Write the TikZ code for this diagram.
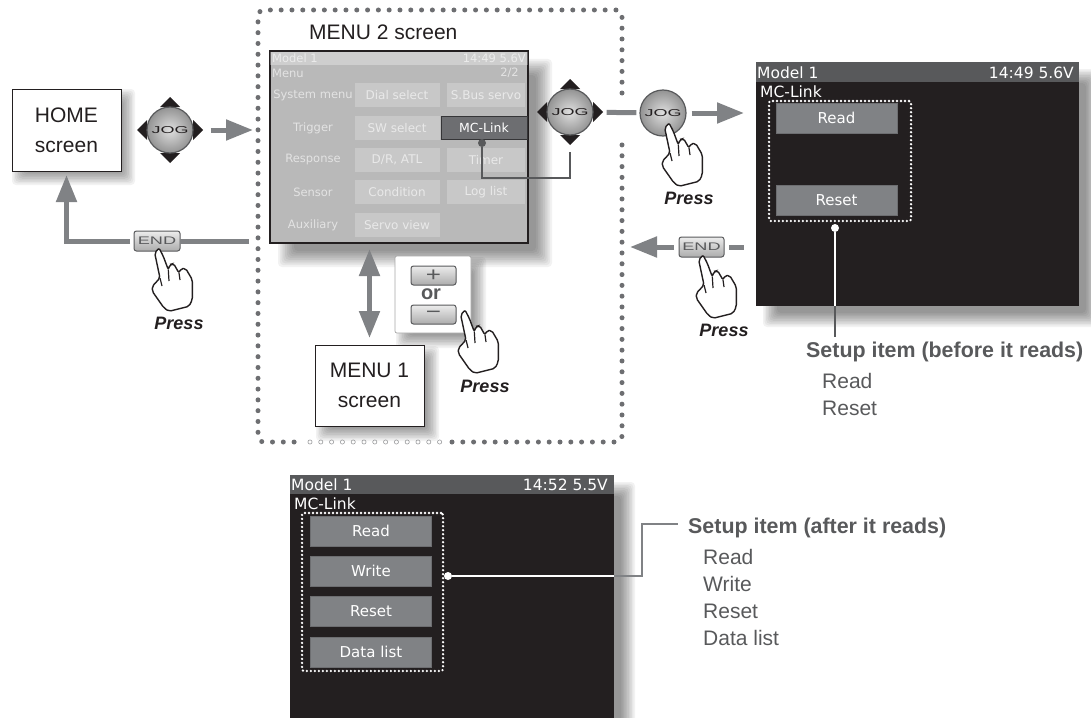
\documentclass[tikz,border=0pt]{standalone}
\usepackage{fontspec}
\setmainfont{Liberation Sans}
\newfontfamily\lcdfont{DejaVu Sans}
\usepackage{graphicx}
\usetikzlibrary{shapes,arrows.meta,positioning,calc}
\definecolor{flowgray}{HTML}{808285}
\definecolor{framegray}{HTML}{6D6E71}
\definecolor{leadgray}{HTML}{58595B}
\definecolor{lcdblack}{HTML}{231F20}
\definecolor{lcdbar}{HTML}{58595B}
\definecolor{lcdkey}{HTML}{808285}
\definecolor{inkblack}{HTML}{231F20}
\tikzstyle{flow} = [draw=flowgray, line width=5pt, >={Triangle[length=27pt,width=20pt]}]
\tikzstyle{leader} = [draw=leadgray, line width=2.4pt]
\tikzset{
  sizebig/.style={font=\fontsize{21}{25}\selectfont},
  caption/.style={sizebig, text=inkblack, inner sep=0pt},
  itemhead/.style={font=\bfseries\fontsize{21.4}{25}\selectfont, text=leadgray, inner sep=0pt, anchor=west},
  item/.style={font=\fontsize{21}{25}\selectfont, text=leadgray, inner sep=0pt, anchor=west},
  whitebox/.style={rectangle, draw=inkblack, fill=white, line width=1pt, inner sep=0pt, outer sep=0pt, align=center},
  lcd/.style={rectangle, fill=lcdblack, inner sep=0pt, outer sep=0pt},
  lcdhead/.style={rectangle, fill=lcdbar, inner sep=0pt, outer sep=0pt},
  lcdtext/.style={font=\lcdfont\fontsize{15.5}{18}\selectfont, text=white, inner sep=0pt},
  lcdkeybox/.style={rectangle, fill=lcdkey, draw=framegray, text=white, font=\lcdfont\fontsize{15}{18}\selectfont, minimum width=121pt, minimum height=30pt, inner sep=0pt},
  dotbox/.style={rectangle, draw=white, line width=2.6pt, line cap=round, dash pattern=on 0pt off 4pt, inner sep=0pt, rounded corners=2pt},
  dotend/.style={circle, fill=#1, minimum size=8pt, inner sep=0pt, outer sep=0pt},
  framedots/.style={draw=framegray, line width=5pt, line cap=round, dash pattern=on 0pt off 10.8pt, rounded corners=6pt},
  jogball/.style={circle, draw=leadgray, line width=1.2pt, minimum size=46pt, inner sep=0pt, shading=radial, inner color=gray!25, outer color=gray!85, text=inkblack},
  panelkey/.style={rectangle, rounded corners=2.5pt, draw=leadgray, line width=1pt, top color=gray!15, bottom color=gray!65, inner sep=0pt, outer sep=0pt, text=leadgray},
  pressnote/.style={font=\bfseries\itshape\fontsize{18}{20}\selectfont, text=inkblack, inner sep=0pt},
  menutext/.style={font=\lcdfont\fontsize{11.5}{14}\selectfont, text=white, text opacity=0.6, inner sep=0pt},
  menukey/.style={rectangle, fill=white, fill opacity=0.22, text opacity=0.6, text=white, font=\lcdfont\fontsize{12}{15}\selectfont, minimum height=24pt, inner sep=0pt},
  hand/.pic={
    \draw [fill=white, line width=1.4pt, rounded corners=2pt, draw=inkblack] (0,0) -- (4.3,8.3) -- (9.3,21.7) -- (11,16.5) -- (14.5,15.5) -- (20,25) -- (22,20.5) -- (26.7,20.5) -- (33.3,31.7) -- (33.3,51.7) -- (30,58.3) -- (10,63.3) -- (5,60) -- (-6.7,43.3) -- (-6.7,38.3) -- (1,30) -- (-4.3,5) -- cycle;
    \draw [line width=1.2pt, draw=inkblack] (1,30) -- (3,38) (9.3,21.7) -- (10,33) (20,25) -- (21,32);
  },
  jogarrows/.pic={
    \fill [inkblack] (-10,-23) -- (0,-33) -- (10,-23) -- cycle;
    \fill [inkblack] (-10,23) -- (0,33) -- (10,23) -- cycle;
    \fill [inkblack] (-23,-10) -- (-33,0) -- (-23,10) -- cycle;
    \fill [inkblack] (23,-10) -- (33,0) -- (23,10) -- cycle;
  }
}
\newcommand{\softshadow}[6]{
  \foreach \i in {1,...,10} {
    \pgfmathsetmacro{\d}{#6*(\i-5.5)/4.5}
    \fill [black, opacity=0.05, rounded corners=4pt] ({#1+#5-\d},{#2+#5-\d}) rectangle ({#3+#5+\d},{#4+#5+\d});
  }
}
\newcommand{\jogword}{\scalebox{1.8}[1]{\fontsize{10}{12}\selectfont JOG}}
\newcommand{\keyword}{\scalebox{1.65}[1]{\fontsize{11}{12}\selectfont END}}
\begin{document}
\begin{tikzpicture}[x=1pt,y=-1pt]
  \useasboundingbox (0,0) rectangle (1091,717);
  \softshadow{12}{89}{121}{171}{7}{7}
  \softshadow{270}{51}{528}{243}{16}{8}
  \softshadow{315}{345}{424}{426}{8}{7}
  \softshadow{395}{256}{471}{333}{8}{7}
  \softshadow{756}{62}{1079}{306}{14}{7}
  \softshadow{290}{475}{614}{760}{14}{7}
  % frame round MENU 2
  \path [framedots] (622,93) -- (622,10) -- (258,10) -- (258,442) -- (300,442);
  \path [framedots] (452,442) -- (622,442) -- (622,137);
  \foreach \x in {310,320.8,...,441} \draw [framegray!70, line width=0.6pt] (\x,442) circle (2.1);
  \node (home) [whitebox, caption, minimum width=109pt, minimum height=82pt] at (66.5,130) {HOME\\[5pt]screen};
  \node (menuone) [whitebox, caption, minimum width=109pt, minimum height=81pt] at (369.5,385.5) {MENU 1\\[5pt]screen};
  \node (menutitle) [caption, anchor=west] at (309,32) {MENU 2 screen};
  % MENU 2
  \node (menutwo) [rectangle, draw=inkblack, fill=gray!55, line width=1.5pt, minimum width=258pt, minimum height=192pt, inner sep=0pt, outer sep=0pt] at (399,147) {};
  \fill [white, opacity=0.3] (270,52) rectangle (528,65);
  \node (menumodel) [menutext, anchor=west] at (272,58) {Model 1};
  \node (menuclock) [menutext, anchor=east] at (526,58) {14:49 5.6V};
  \node (menuname) [menutext, anchor=west] at (272,73) {Menu};
  \node (menupage) [menutext, anchor=east] at (519,73) {2/2};
  \foreach \y/\t [count=\n] in {95/System menu,128/Trigger,160/Response,192/Sensor,225/Auxiliary}
    \node (menuside\n) [menutext] at (313,\y) {\t};
  \foreach \y/\t [count=\n] in {95/Dial select,128/SW select,160/{D/R, ATL},192/Condition,225/Servo view}
    \node (menumid\n) [menukey, minimum width=85pt] at (397,\y) {\t};
  \foreach \y/\t [count=\n] in {95/S.Bus servo,160/Timer,192/Log list}
    \node (menuright\n) [menukey, minimum width=78pt] at (486,\y) {\t};
  \node (mclink) [rectangle, draw=leadgray!60!black, fill=framegray, text=white, font=\lcdfont\fontsize{12.5}{15}\selectfont, line width=1pt, minimum width=86pt, minimum height=23pt, inner sep=0pt, outer sep=0pt] at (484,127.5) {MC-Link};
  \node (mclinkdot) [dotend=leadgray] at (482,143) {};
  % JOG keys
  \pic at (170,130) {jogarrows};
  \node (jogone) [jogball] at (170,130) {\jogword};
  \pic at (570,112) {jogarrows};
  \node (jogtwo) [jogball] at (570,112) {\jogword};
  \node (jogthree) [jogball] at (663,113) {\jogword};
  \node (endone) [panelkey, minimum width=46pt, minimum height=20pt] at (157,241) {\keyword};
  \node (endtwo) [panelkey, minimum width=45pt, minimum height=20pt] at (701.5,247) {\keyword};
  % + or - panel
  \node (panel) [rectangle, rounded corners=2pt, draw=gray!70, fill=white, line width=0.7pt, minimum width=76pt, minimum height=77pt, inner sep=0pt] at (433,294.5) {};
  \node (pluskey) [panelkey, minimum width=45pt, minimum height=19pt, font=\fontsize{20}{20}\selectfont] at (433.5,275.5) {\scalebox{1.3}[1]{+}};
  \node (minuskey) [panelkey, minimum width=45pt, minimum height=19pt, font=\fontsize{20}{20}\selectfont] at (433.5,314.5) {\scalebox{1.3}[1]{\textminus}};
  \node (orword) [font=\bfseries\fontsize{20}{20}\selectfont, text=leadgray, inner sep=0pt] at (431,294.5) {or};
  % connectors
  \coordinate (menuin) at (253,130);
  \coordinate (menuout) at (253,241);
  \coordinate (uptip) at (369.5,249);
  \coordinate (leadturn) at (482,178);
  \coordinate (jogtwofoot) at (570,152);
  \coordinate (backtip) at (630,247);
  \coordinate (backstart) at (744,247);
  \path [flow,->,shorten <=17pt] (jogone) -- (menuin);
  \path [flow,shorten <=4pt] (menuout) -- (endone);
  \path [flow,->,shorten <=4pt,shorten >=4pt] (endone) -| (home);
  \path [flow,<->,shorten >=7pt] (uptip) -- (menuone);
  \path [leader] (mclinkdot) -- (leadturn) -| (jogtwofoot);
  \path [flow,shorten <=13pt,shorten >=3pt] (jogtwo) -- (jogthree);
  % screen before it reads
  \node (modelone) [lcd, minimum width=323pt, minimum height=244pt] at (917.5,184) {};
  \node (headone) [lcdhead, minimum width=323pt, minimum height=20pt] at (917.5,72) {};
  \node (modelonename) [lcdtext, anchor=west] at (757,73) {Model 1};
  \node (modeloneclock) [lcdtext, anchor=east] at (1074,73) {14:49 5.6V};
  \node (modelonemenu) [lcdtext, anchor=west] at (760,92) {MC-Link};
  \node (readone) [lcdkeybox] at (836.5,118) {Read};
  \node (resetone) [lcdkeybox] at (836.5,200) {Reset};
  \node (boxone) [dotbox, minimum width=142pt, minimum height=120pt] at (840,161) {};
  \node (dotone) [dotend=white] at (835,228) {};
  \coordinate (setupfoot) at (835,337);
  \path [flow,->,shorten <=5pt,shorten >=12pt] (jogthree) -- (jogthree -| modelone.west);
  \path [flow,shorten <=5pt] (endtwo) -- (backstart);
  \path [flow,->,shorten <=5pt] (endtwo) -- (backtip);
  \draw [white, line width=2.4pt] (dotone) -- (dotone |- modelone.south);
  \path [leader] (dotone |- modelone.south) -- (setupfoot);
  \node (setupone) [itemhead] at (806,352) {Setup item (before it reads)};
  \node (itemread) [item] at (822,381) {Read};
  \node (itemreset) [item] at (822,408) {Reset};
  % screen after it reads
  \node (modeltwo) [lcd, minimum width=324pt, minimum height=285pt] at (452,617.5) {};
  \node (headtwo) [lcdhead, minimum width=324pt, minimum height=19pt] at (452,484.5) {};
  \node (modeltwoname) [lcdtext, anchor=west] at (291,485) {Model 1};
  \node (modeltwoclock) [lcdtext, anchor=east] at (608,485) {14:52 5.5V};
  \node (modeltwomenu) [lcdtext, anchor=west] at (294,504) {MC-Link};
  \foreach \y/\t [count=\n] in {531/Read,571/Write,611.5/Reset,652/Data list}
    \node (keytwo\n) [lcdkeybox] at (371,\y) {\t};
  \node (boxtwo) [dotbox, minimum width=141pt, minimum height=158pt] at (372.5,592) {};
  \node (dottwo) [dotend=white] at (448,576) {};
  \coordinate (edgetwo) at (modeltwo.east |- dottwo);
  \coordinate (bendtwo) at (642,576);
  \coordinate (setuptwofoot) at (678,524);
  \draw [white, line width=2.4pt] (dottwo) -- (edgetwo);
  \path [draw=flowgray, line width=1.8pt] (edgetwo) -- (bendtwo) |- (setuptwofoot);
  \node (setuptwo) [itemhead] at (688,528) {Setup item (after it reads)};
  \foreach \y/\t [count=\n] in {557/Read,583.5/Write,611/Reset,638/Data list}
    \node (itemtwo\n) [item] at (703,\y) {\t};
  % hands
  \pic at (159,248) {hand};
  \node (pressone) [pressnote] at (179,323) {Press};
  \pic at (465,310) {hand};
  \node (presstwo) [pressnote] at (485,386) {Press};
  \pic at (669,123) {hand};
  \node (pressthree) [pressnote] at (689,198) {Press};
  \pic at (703,255) {hand};
  \node (pressfour) [pressnote] at (724,330) {Press};
\end{tikzpicture}
\end{document}
